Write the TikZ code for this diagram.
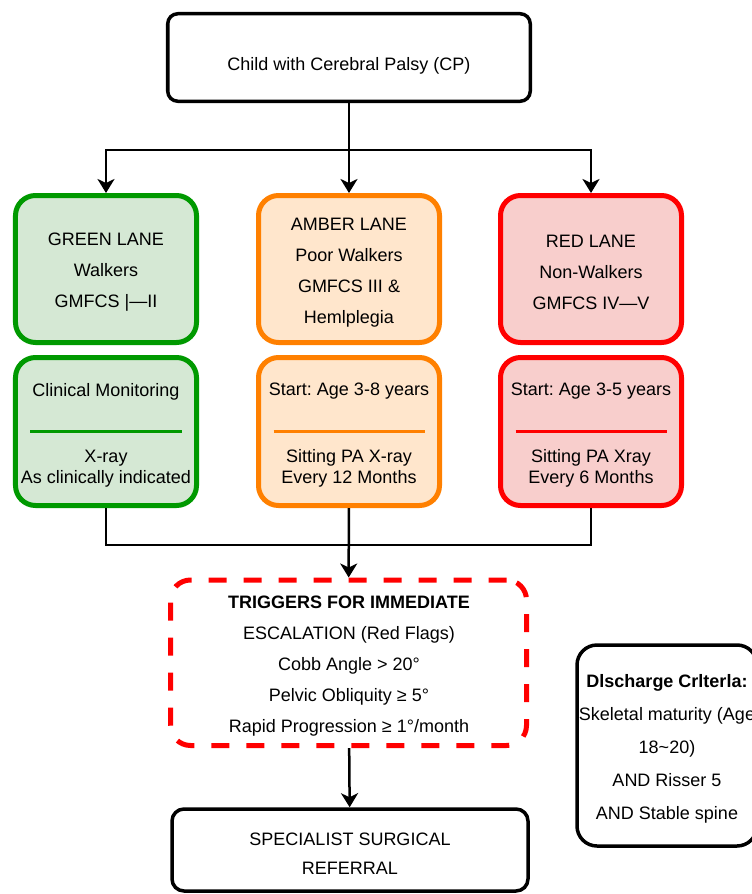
\documentclass[tikz,border=0pt]{standalone}
\usepackage{fontspec}
\setmainfont{Liberation Sans}
\usetikzlibrary{arrows.meta}
\definecolor{gstroke}{HTML}{009900}
\definecolor{gfill}{HTML}{D5E8D4}
\definecolor{astroke}{HTML}{FF8000}
\definecolor{afill}{HTML}{FFE6CC}
\definecolor{rstroke}{HTML}{FF0000}
\definecolor{rfill}{HTML}{F8CECC}
\tikzset{
  lane/.style={rounded corners=20bp, line width=5bp, minimum width=181bp, inner sep=0pt},
  greenbox/.style={lane, draw=gstroke, fill=gfill},
  amberbox/.style={lane, draw=astroke, fill=afill},
  redbox/.style={lane, draw=rstroke, fill=rfill},
  blackbox/.style={draw=black, line width=3.5bp, fill=white, inner sep=0pt},
  txt/.style={font=\fontsize{18bp}{31bp}\selectfont, align=center, inner sep=0pt, yshift=-3.5bp},
  smalltxt/.style={txt, font=\fontsize{18bp}{21.5bp}\selectfont},
  divider/.style={line width=2.5bp},
  arr/.style={-{Stealth[length=14bp,width=17bp,inset=4bp]}, line width=2.5bp, draw=black},
  conn/.style={line width=2.5bp, draw=black}
}
\begin{document}
\frenchspacing
\begin{tikzpicture}[x=1bp,y=-1bp]
\useasboundingbox (0,0) rectangle (752,894);
% top box
\node[blackbox, rounded corners=10bp, minimum width=362.5bp, minimum height=87.5bp] (top) at (349,57.5) {};
\node[txt] (topT) at (349,62) {Child with Cerebral Palsy (CP)};
% lane top boxes
\node[greenbox, minimum height=147bp] (gT) at (106,269) {};
\node[amberbox, minimum height=147bp] (aT) at (349,269) {};
\node[redbox, minimum height=147bp] (rT) at (591,269) {};
\node[txt] (gTt) at (106,269) {GREEN LANE\\Walkers\\GMFCS |—II};
\node[txt] (aTt) at (349,269) {AMBER LANE\\Poor Walkers\\GMFCS III \&\\Hemlplegia};
\node[txt] (rTt) at (591,269) {RED LANE\\Non-Walkers\\GMFCS IV—V};
% lane bottom boxes
\node[greenbox, minimum height=148bp] (gB) at (106,431.5) {};
\node[amberbox, minimum height=148bp] (aB) at (349,431.5) {};
\node[redbox, minimum height=148bp] (rB) at (591,431.5) {};
\node[txt] (gB1) at (106,388) {Clinical Monitoring};
\node[txt] (aB1) at (349,388) {Start: Age 3-8 years};
\node[txt] (rB1) at (591,388) {Start: Age 3-5 years};
\draw[divider, draw=gstroke] ([xshift=-75.5bp]gB.center) -- ([xshift=75.5bp]gB.center);
\draw[divider, draw=astroke] ([xshift=-75.5bp]aB.center) -- ([xshift=75.5bp]aB.center);
\draw[divider, draw=rstroke] ([xshift=-75.5bp]rB.center) -- ([xshift=75.5bp]rB.center);
\node[smalltxt] (gB2) at (106,465) {X-ray\\As clinically indicated};
\node[smalltxt] (aB2) at (349,465) {Sitting PA X-ray\\Every 12 Months};
\node[smalltxt] (rB2) at (591,465) {Sitting PA Xray\\Every 6 Months};
% triggers
\node[draw=rstroke, line width=5bp, dash pattern=on 18bp off 17bp, rounded corners=20bp,
      minimum width=356bp, minimum height=165.5bp, inner sep=0pt] (trig) at (348.5,662.75) {};
\node[txt] (trigT) at (349,662.5)
  {\bfseries TRIGGERS FOR IMMEDIATE\\ESCALATION (Red Flags)\\Cobb Angle > 20°\\Pelvic Obliquity ≥ 5°\\Rapid Progression ≥ 1°/month};
% referral
\node[blackbox, rounded corners=12bp, minimum width=356bp, minimum height=82bp] (ref) at (350,850) {};
\node[txt, font=\fontsize{18bp}{29bp}\selectfont] (refT) at (350,850) {SPECIALIST SURGICAL\\REFERRAL};
% discharge
\node[blackbox, rounded corners=20bp, minimum width=180bp, minimum height=201bp] (dis) at (667,745.5) {};
\node[txt, font=\fontsize{18bp}{33bp}\selectfont] (disT) at (667,745.5)
  {\bfseries Dlscharge Crlterla:\\Skeletal maturity (Age\\18\textasciitilde 20)\\AND Risser 5\\AND Stable spine};
% connectors
\coordinate (split) at (349,150);
\coordinate (merge) at (349,545);
\draw[conn] (top) -- (split);
\draw[arr] (split) -| (gT);
\draw[arr] (split) -- (aT);
\draw[arr] (split) -| (rT);
\draw[conn] (gB) |- (merge);
\draw[conn] (rB) |- (merge);
\draw[arr] (aB) -- (trig);
\draw[arr] (trig) -- (ref);
\end{tikzpicture}
\end{document}
